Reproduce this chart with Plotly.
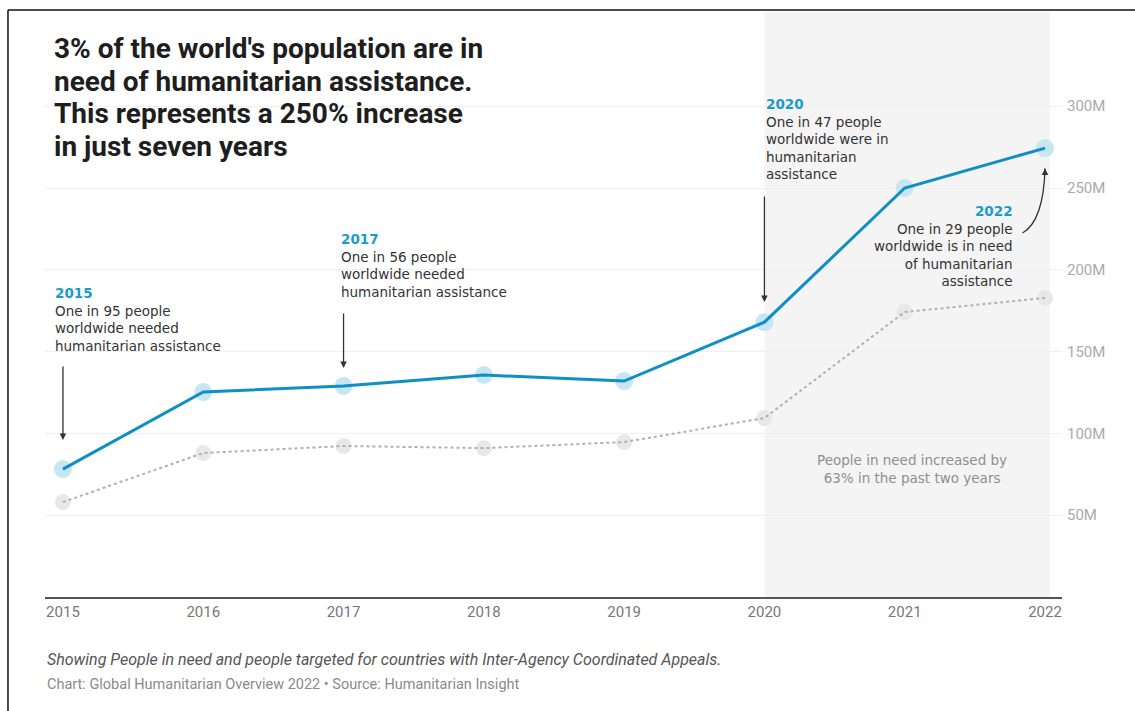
import plotly.graph_objects as go

years = [2015, 2016, 2017, 2018, 2019, 2020, 2021, 2022]
people_in_need = [78.2e6, 125.3e6, 129.0e6, 135.7e6, 132.0e6, 168.0e6, 250.0e6, 274.4e6]
people_targeted = [58.0e6, 88.0e6, 92.3e6, 91.0e6, 94.7e6, 109.4e6, 174.2e6, 182.8e6]

y_ticks = [50e6, 100e6, 150e6, 200e6, 250e6, 300e6]
y_tick_text = ["50M", "100M", "150M", "200M", "250M", "300M"]

title_lines = [
    "3% of the world's population are in",
    "need of humanitarian assistance.",
    "This represents a 250% increase",
    "in just seven years",
]

BLUE = "#0f8fc6"
TEAL = "#1b9cc8"
HALO_BLUE = "#c6e6f2"
HALO_GREY = "#e8e8e8"
TEXT = "#333333"
NOTE_FONT = "DejaVu Sans"
NOTE_SIZE = 13.5

fig = go.Figure()

# halo markers for targeted series, then its dotted line
fig.add_trace(go.Scatter(x=years, y=people_targeted, mode="markers",
                         marker=dict(size=16, color=HALO_GREY), hoverinfo="skip"))
fig.add_trace(go.Scatter(x=years, y=people_targeted, mode="lines",
                         line=dict(color="#b0b0b0", width=2, dash="dot"), name="People targeted"))
# halo markers for people in need, then the main line
fig.add_trace(go.Scatter(x=years, y=people_in_need, mode="markers",
                         marker=dict(size=18, color=HALO_BLUE), hoverinfo="skip"))
fig.add_trace(go.Scatter(x=years, y=people_in_need, mode="lines",
                         line=dict(color=BLUE, width=3), name="People in need"))

shapes = [
    # highlighted last two years
    dict(type="rect", xref="x", yref="paper", x0=2020, x1=2022.036, y0=0, y1=1.014,
         fillcolor="#f4f4f4", line=dict(width=0), layer="below"),
    # frame
    dict(type="line", xref="paper", yref="paper", x0=-0.0364, x1=1.072, y0=1.0173, y1=1.0173,
         line=dict(color="#111111", width=1.5)),
    dict(type="line", xref="paper", yref="paper", x0=-0.0364, x1=-0.0364, y0=-0.2, y1=1.0173,
         line=dict(color="#111111", width=1.5)),
    # curved pointer for 2022 note
    dict(type="path", xref="x", yref="y",
         path="M 2021.84,222.5e6 Q 2021.99,230e6 2022.0,262e6",
         line=dict(color=TEXT, width=1.3)),
]

annotations = []
# headline, one line per annotation for tight line spacing
title_centers_px = [48, 81, 114, 146]
for line, cy in zip(title_lines, title_centers_px):
    annotations.append(dict(
        xref="paper", yref="paper", x=0.0069, y=(597 - cy) / 577,
        xanchor="left", yanchor="middle", showarrow=False, text=line,
        font=dict(family="Roboto", size=28, color="#1e1e1e", weight="bold")))

annotations += [
    dict(x=2014.93, y=192e6, xanchor="left", yanchor="top", align="left", showarrow=False,
         text=f"<b><span style='color:{TEAL}'>2015</span></b><br>One in 95 people<br>"
              "worldwide needed<br>humanitarian assistance",
         font=dict(family=NOTE_FONT, size=NOTE_SIZE, color=TEXT)),
    dict(x=2016.97, y=225e6, xanchor="left", yanchor="top", align="left", showarrow=False,
         text=f"<b><span style='color:{TEAL}'>2017</span></b><br>One in 56 people<br>"
              "worldwide needed<br>humanitarian assistance",
         font=dict(family=NOTE_FONT, size=NOTE_SIZE, color=TEXT)),
    dict(x=2020.0, y=307.5e6, xanchor="left", yanchor="top", align="left", showarrow=False,
         text=f"<b><span style='color:{TEAL}'>2020</span></b><br>One in 47 people<br>"
              "worldwide were in<br>humanitarian<br>assistance",
         font=dict(family=NOTE_FONT, size=NOTE_SIZE, color=TEXT)),
    dict(x=2021.786, y=242e6, xanchor="right", yanchor="top", align="right", showarrow=False,
         text=f"<b><span style='color:{TEAL}'>2022</span></b><br>One in 29 people<br>"
              "worldwide is in need<br>of humanitarian<br>assistance",
         font=dict(family=NOTE_FONT, size=NOTE_SIZE, color=TEXT)),
    dict(x=2021.05, y=78e6, xanchor="center", yanchor="middle", align="center", showarrow=False,
         text="People in need increased by<br>63% in the past two years",
         font=dict(family=NOTE_FONT, size=NOTE_SIZE, color="#8f8f8f")),
    # arrows
    dict(x=2015, y=96e6, ax=0, ay=-75, text="", showarrow=True, arrowhead=2, arrowsize=1,
         arrowwidth=1.3, arrowcolor=TEXT),
    dict(x=2017, y=140e6, ax=0, ay=-56, text="", showarrow=True, arrowhead=2, arrowsize=1,
         arrowwidth=1.3, arrowcolor=TEXT),
    dict(x=2020, y=180.3e6, ax=0, ay=-107, text="", showarrow=True, arrowhead=2, arrowsize=1,
         arrowwidth=1.3, arrowcolor=TEXT),
    dict(x=2022, y=262e6, ax=0, ay=6, text="", showarrow=True, arrowhead=2, arrowsize=1,
         arrowwidth=1.3, arrowcolor=TEXT),
    # captions
    dict(xref="paper", yref="paper", x=0.0, y=-0.109, xanchor="left", yanchor="middle",
         showarrow=False,
         text="<i>Showing People in need and people targeted for countries with "
              "Inter-Agency Coordinated Appeals.</i>",
         font=dict(family="Roboto", size=16, color="#555555")),
    dict(xref="paper", yref="paper", x=0.0, y=-0.1525, xanchor="left", yanchor="middle",
         showarrow=False,
         text="Chart: Global Humanitarian Overview 2022 • Source: Humanitarian Insight",
         font=dict(family="Roboto", size=14.5, color="#8a8a8a")),
]

fig.update_layout(
    width=1135, height=711,
    margin=dict(l=45, r=73, t=20, b=114),
    paper_bgcolor="white", plot_bgcolor="white",
    showlegend=False,
    shapes=shapes,
    annotations=annotations,
    xaxis=dict(range=[2014.872, 2022.121], tickmode="array", tickvals=years,
               ticktext=[str(y) for y in years], showgrid=False, zeroline=False,
               showline=True, linecolor="#555555", linewidth=2, ticks="",
               tickfont=dict(family="Roboto", size=15, color="#777777"), fixedrange=True),
    yaxis=dict(range=[0, 352.7e6], side="right", tickmode="array", tickvals=y_ticks,
               ticktext=y_tick_text, showgrid=True, gridcolor="#f0f0f0", gridwidth=1,
               zeroline=False, showline=False, ticks="", ticklabelstandoff=4,
               tickfont=dict(family="Roboto", size=15, color="#aaaaaa"), fixedrange=True),
)

fig.write_html("out.html")
